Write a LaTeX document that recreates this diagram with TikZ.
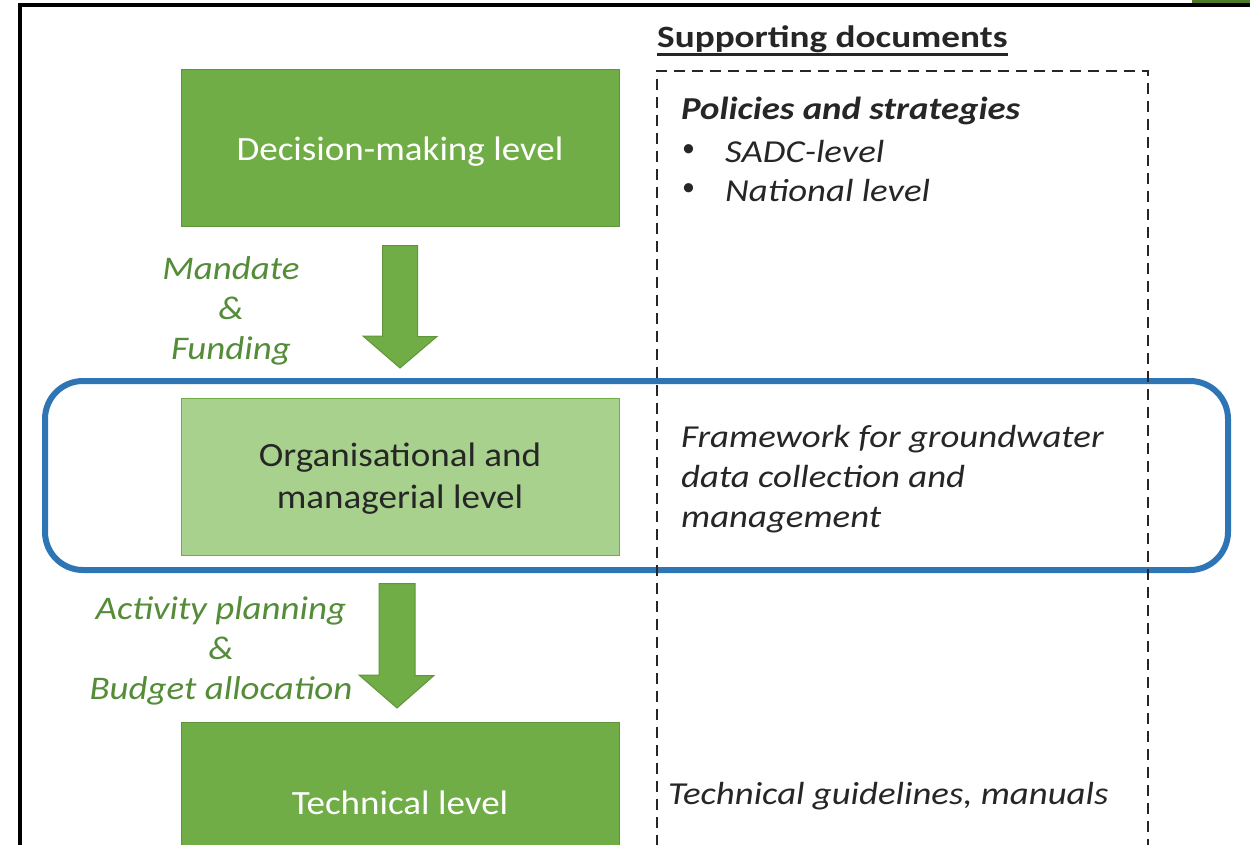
\documentclass[tikz,border=0pt]{standalone}
\usepackage{fontspec}
\setmainfont{Carlito}
\newfontfamily\boxfont[FakeStretch=1.09]{Carlito}
\newfontfamily\lblfont[FakeStretch=1.12]{Carlito}
\newfontfamily\docfont[FakeStretch=1.15]{Carlito}
\newfontfamily\supfont[FakeStretch=1.2]{Carlito}
\usetikzlibrary{calc}
\definecolor{gfill}{RGB}{112,173,71}
\definecolor{gedge}{RGB}{96,150,58}
\definecolor{lgfill}{RGB}{169,209,142}
\definecolor{gtext}{RGB}{84,140,56}
\definecolor{bframe}{RGB}{46,117,182}
\definecolor{dtext}{RGB}{38,38,38}
\definecolor{olive}{RGB}{78,122,40}
\tikzset{
  levelbox/.style={draw=gedge, line width=1pt, minimum width=438pt, minimum height=157pt, inner sep=0pt},
  leveltext/.style={align=center, inner sep=0pt, font=\boxfont\fontsize{34}{42}\selectfont},
  flowlabel/.style={text=gtext, align=center, font=\lblfont\fontsize{33}{40}\selectfont\itshape, inner sep=0pt},
  doctext/.style={text=dtext, align=left, anchor=west, inner sep=0pt, font=\docfont\fontsize{32}{40}\selectfont\itshape},
  blockarrow/.style={fill=gfill, draw=gedge, line width=1pt},
}
\begin{document}
\begin{tikzpicture}[x=1pt,y=-1pt]
\useasboundingbox (0,0) rectangle (1250,845);
\clip (0,0) rectangle (1250,845);
\fill[white] (0,0) rectangle (1250,845);
% outer frame
\fill[olive] (1192,0) rectangle (1250,3);
\draw[black, line width=3.5pt] (20,850) -- (20,5) -- (1255,5);
% level boxes
\node[levelbox, fill=gfill] (dec) at (400,148.5) {};
\node[leveltext, text=white] (dect) at (400,152) {Decision-making level};
\node[levelbox, fill=lgfill, draw=gfill] (org) at (400,476.5) {};
\node[leveltext, text=dtext] (orgt) at (400,478.5) {Organisational and\\managerial level};
\node[levelbox, fill=gfill, minimum height=158pt, anchor=north] (tec) at (400,722) {};
\node[leveltext, text=white] (tect) at (400,803) {Technical level};
% block arrows
\coordinate (a1) at ($(dec.south)+(0,18)$);
\fill[blockarrow] (a1) ++(-17.5,0) -- ++(35,0) -- ++(0,91) -- ++(19.5,0) -- (400,368) -- (363,336) -- ++(19.5,0) -- cycle;
\coordinate (a2) at ($(org.south)+(-3,28)$);
\fill[blockarrow] (a2) ++(-18,0) -- ++(36,0) -- ++(0,92) -- ++(19,0) -- (397,708) -- (359,675) -- ++(20,0) -- cycle;
% flow labels
\node[flowlabel] (mand) at (231,311) {Mandate\\\&\\Funding};
\node[flowlabel] (act) at (221,651) {Activity planning\\\&\\Budget allocation};
% blue highlight
\draw[bframe, line width=6pt, rounded corners=38pt] (45,381) rectangle (1228,570);
% supporting documents
\draw[black!85, line width=1.8pt, dash pattern=on 11pt off 7pt] (657,900) -- (657,71) -- (1148,71) -- (1148,900);
\node[text=dtext, anchor=west, inner sep=0pt, font=\supfont\fontsize{31}{38}\selectfont\bfseries] (sup) at (657,39) {Supporting documents};
\draw[dtext, line width=2.5pt] ($(sup.south west)+(0,2)$) -- ($(sup.south east)+(0,2)$);
\node[doctext, font=\docfont\fontsize{32}{40}\selectfont\bfseries\itshape] (pol) at (681,111) {Policies and strategies};
\node[text=dtext, anchor=west, inner sep=0pt, font=\fontsize{26}{40}\selectfont] (b1) at (682,151) {•};
\node[doctext] (sadc) at (725,152) {SADC-level};
\node[text=dtext, anchor=west, inner sep=0pt, font=\fontsize{26}{40}\selectfont] (b2) at (682,190) {•};
\node[doctext] (nat) at (725,191) {National level};
\node[doctext, anchor=north west] (fw) at (681,425) {Framework for groundwater\\data collection and\\management};
\node[doctext] (tg) at (668,796) {Technical guidelines, manuals};
\end{tikzpicture}
\end{document}
